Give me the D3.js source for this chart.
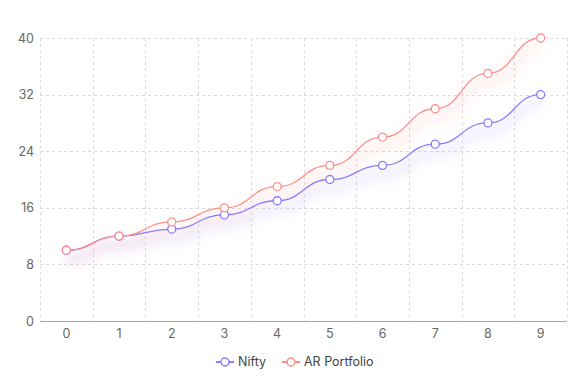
<!DOCTYPE html>
<html>
<head>
<meta charset="utf-8">
<script src="https://cdn.jsdelivr.net/npm/d3@7"></script>
<style>
  body { margin: 0; background: #fff; }
  svg { font-family: Inter, "Noto Sans", sans-serif; }
</style>
</head>
<body>
<svg id="svg" width="585" height="390"></svg>
<script>
  // data
  var categories = ["0", "1", "2", "3", "4", "5", "6", "7", "8", "9"];
  var niftyValues = [10, 12, 13, 15, 17, 20, 22, 25, 28, 32];
  var portfolioValues = [10, 12, 14, 16, 19, 22, 26, 30, 35, 40];
  var yTicks = [0, 8, 16, 24, 32, 40];
  var seriesNames = ["Nifty", "AR Portfolio"];

  var colors = ["#8a7cff", "#ff8f8a"];

  // plot area ( "top" is taken by window.top, so use other names )
  var plotLeft = 40, plotRight = 567, plotTop = 38, plotBottom = 321;

  var svg = d3.select("#svg");

  var x = d3.scaleBand().domain(categories).range([plotLeft, plotRight]);
  var y = d3.scaleLinear().domain([0, 40]).range([plotBottom, plotTop]);

  // shadow filter under the lines
  var defs = svg.append("defs");
  var f = defs.append("filter").attr("id", "glow")
    .attr("x", "-10%").attr("y", "-50%").attr("width", "120%").attr("height", "200%");
  f.append("feGaussianBlur").attr("stdDeviation", 5);

  // grid
  var grid = svg.append("g");
  grid.selectAll("line.h")
    .data(yTicks.filter(function(d){ return d > 0; }))
    .enter().append("line")
    .attr("x1", plotLeft).attr("x2", plotRight)
    .attr("y1", function(d){ return Math.round(y(d)) + 0.5; })
    .attr("y2", function(d){ return Math.round(y(d)) + 0.5; })
    .attr("stroke", "#dcdcdc").attr("stroke-dasharray", "3,3");

  var vx = categories.map(function(c){ return x(c); }).concat([plotRight]);
  grid.selectAll("line.v")
    .data(vx)
    .enter().append("line")
    .attr("x1", function(d){ return Math.round(d) + 0.5; })
    .attr("x2", function(d){ return Math.round(d) + 0.5; })
    .attr("y1", plotTop).attr("y2", plotBottom)
    .attr("stroke", "#dcdcdc").attr("stroke-dasharray", "3,3");

  // y axis labels
  var yAxis = svg.append("g")
    .attr("transform", "translate(" + plotLeft + ",0)")
    .call(d3.axisLeft(y).tickValues(yTicks).tickSize(0).tickPadding(6));
  yAxis.select(".domain").remove();
  yAxis.selectAll("text").attr("font-size", 12.5).attr("fill", "#666")
    .attr("font-family", "Inter, sans-serif");

  // x axis
  var xAxis = svg.append("g")
    .attr("transform", "translate(0," + plotBottom + ")")
    .call(d3.axisBottom(x).tickSize(0).tickPadding(8));
  xAxis.select(".domain").attr("stroke", "#aaa").attr("d", "M" + plotLeft + ",0.5H" + plotRight);
  xAxis.selectAll("text").attr("font-size", 12.5).attr("fill", "#666")
    .attr("font-family", "Inter, sans-serif");

  var line = d3.line()
    .x(function(d, i){ return x(categories[i]) + x.bandwidth() / 2; })
    .y(function(d){ return y(d); })
    .curve(d3.curveBumpX);

  var allSeries = [niftyValues, portfolioValues];

  // shadows
  allSeries.forEach(function(vals, s){
    svg.append("path")
      .attr("d", line(vals))
      .attr("transform", "translate(0,9)")
      .attr("fill", "none")
      .attr("stroke", colors[s])
      .attr("stroke-width", 12)
      .attr("stroke-opacity", 0.11)
      .attr("filter", "url(#glow)");
  });

  allSeries.forEach(function(vals, s){
    svg.append("path")
      .attr("d", line(vals))
      .attr("fill", "none")
      .attr("stroke", colors[s])
      .attr("stroke-width", 1.3);
  });

  allSeries.forEach(function(vals, s){
    svg.append("g").selectAll("circle")
      .data(vals)
      .enter().append("circle")
      .attr("cx", function(d, i){ return x(categories[i]) + x.bandwidth() / 2; })
      .attr("cy", function(d){ return y(d); })
      .attr("r", 4)
      .attr("fill", "#fff")
      .attr("stroke", colors[s])
      .attr("stroke-width", 1.3);
  });

  // legend
  var legendX = [216, 282];
  var legend = svg.append("g");
  seriesNames.forEach(function(name, s){
    var g = legend.append("g").attr("transform", "translate(" + legendX[s] + ",362)");
    g.append("line").attr("x1", 0).attr("x2", 18).attr("y1", 0).attr("y2", 0)
      .attr("stroke", colors[s]).attr("stroke-width", 2);
    g.append("circle").attr("cx", 9).attr("cy", 0).attr("r", 4)
      .attr("fill", "#fff").attr("stroke", colors[s]).attr("stroke-width", 1.5);
    g.append("text").attr("x", 22).attr("y", 0).attr("dy", "0.35em")
      .attr("font-size", 12.5).attr("fill", "#444").text(name);
  });
</script>
</body>
</html>
